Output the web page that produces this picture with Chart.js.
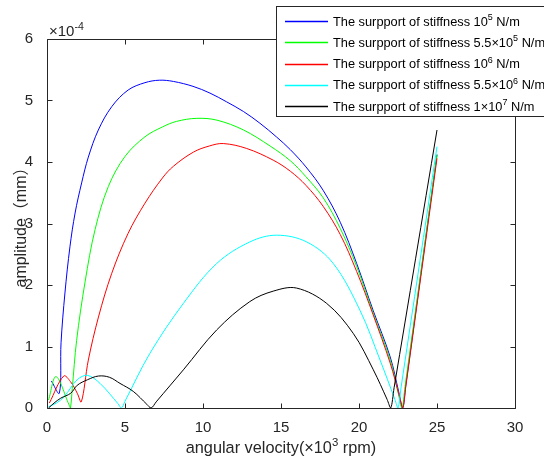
<!DOCTYPE html>
<html><head><meta charset="utf-8">
<script src="https://cdn.jsdelivr.net/npm/chart.js@4.4.1/dist/chart.umd.min.js"></script>
<style>html,body{margin:0;padding:0;background:#fff;overflow:hidden}</style>
</head><body>
<canvas id="c" width="544" height="460"></canvas>
<script>
const FONT = '"Liberation Sans", Arial, "Noto Sans CJK SC", sans-serif';
const xTicks = [0, 5, 10, 15, 20, 25, 30];
const yTicks = [0, 1, 2, 3, 4, 5, 6];

const blueX = [0.28,0.79,0.9,1.15,1.47,1.8,2.22,2.65,3.29,4.15,5.2,6.28,7.2,8.1,9.36,10.45,11.5,12.6,13.65,14.7,15.6,16.6,17.7,18.8,19.85,20.9,22.0,22.55,22.8,23.0,25];
const blueY = [0.44,0.24,1.06,1.87,2.62,3.17,3.66,4.08,4.52,4.9,5.17,5.29,5.33,5.31,5.23,5.12,4.98,4.82,4.63,4.41,4.2,3.92,3.54,3.02,2.35,1.59,0.83,0.26,0,0.37,4.12];

const greenX = [0.1,0.58,1.4,1.5,1.62,1.9,2.44,3.08,3.93,5.0,6.28,7.4,8.3,9.6,10.9,12.6,14.3,15.6,16.6,17.7,18.8,19.85,20.9,22.0,22.5,22.75,22.95,25];
const greenY = [0.13,0.51,0.06,0,0.32,1.1,2.05,2.9,3.6,4.09,4.41,4.57,4.66,4.71,4.68,4.52,4.26,4.02,3.76,3.42,2.92,2.3,1.55,0.78,0.26,0,0.35,4.12];

const redX = [0.15,1.07,1.5,1.94,2.2,2.65,3.3,4.15,5.2,6.28,7.4,8.1,9.38,10.4,11.3,12.8,14.5,15.6,16.6,17.7,18.8,19.85,20.9,22.0,22.6,22.8,23.0,25];
const redY = [0.08,0.52,0.43,0.24,0.1,0.78,1.48,2.19,2.84,3.33,3.74,3.93,4.16,4.26,4.3,4.22,4.03,3.85,3.62,3.28,2.82,2.22,1.52,0.73,0.18,0,0.35,4.06];

const cyanX = [0.1,0.6,1.09,1.94,2.6,3.4,4.55,4.77,5.0,6.6,8.74,10.88,13.0,14.72,16.65,18.35,20.06,21.35,22.3,22.5,22.7,25];
const cyanY = [0.02,0.08,0.18,0.46,0.53,0.4,0.07,0,0.11,0.89,1.7,2.35,2.7,2.81,2.7,2.35,1.59,0.78,0.14,0,0.34,4.25];

const blackX = [0.1,0.45,0.88,1.52,1.94,2.6,3.3,4.0,4.68,5.53,6.4,6.67,7.0,8.74,10.88,13.0,14.5,16.0,17.93,19.64,20.92,21.8,22.03,22.25,25];
const blackY = [0,0.08,0.16,0.24,0.37,0.46,0.52,0.5,0.4,0.27,0.06,0,0.1,0.62,1.27,1.73,1.9,1.95,1.7,1.21,0.62,0.14,0,0.33,4.52];

const legendBase = ['10', '5.5×10', '10', '5.5×10', '1×10'];
const legendExp = ['5', '5', '6', '6', '7'];
const legendPrefix = 'The surpport of stiffness ';
const legendSuffix = ' N/m';
const colors = ['#0000ff', '#00ff00', '#ff0000', '#00ffff', '#000000'];

const seriesX = [blueX, greenX, redX, cyanX, blackX];
const seriesY = [blueY, greenY, redY, cyanY, blackY];

const datasets = seriesX.map((xs, i) => ({
  label: legendPrefix + legendBase[i] + '^' + legendExp[i] + legendSuffix,
  data: xs.map((x, j) => ({x: x, y: seriesY[i][j]})),
  borderColor: colors[i],
  backgroundColor: colors[i],
  borderWidth: 1,
  pointRadius: 0,
  fill: false,
  tension: 0.35,
  order: 4 - i
}));

function drawRich(ctx, parts, x, y, size, align) {
  const supSize = size * 0.7;
  let total = 0;
  parts.forEach(p => { ctx.font = (p.sup ? supSize : size) + 'px ' + FONT; total += ctx.measureText(p.t).width; });
  let cx = align === 'center' ? x - total / 2 : x;
  ctx.textAlign = 'left';
  ctx.textBaseline = 'alphabetic';
  parts.forEach(p => {
    ctx.font = (p.sup ? supSize : size) + 'px ' + FONT;
    ctx.fillText(p.t, cx, p.sup ? y - size * 0.42 : y);
    cx += ctx.measureText(p.t).width;
  });
}

const matlabPlugin = {
  id: 'matlabAxes',
  afterDraw(chart) {
    const ctx = chart.ctx, a = chart.chartArea, xs = chart.scales.x, ys = chart.scales.y;
    ctx.save();
    ctx.strokeStyle = '#262626';
    ctx.lineWidth = 1;
    const L = Math.round(a.left) + 0.5, R = Math.round(a.right) + 0.5, T = Math.round(a.top) + 0.5, B = Math.round(a.bottom) + 0.5;
    ctx.beginPath();
    ctx.moveTo(L, T); ctx.lineTo(R, T); ctx.lineTo(R, B); ctx.lineTo(L, B); ctx.closePath();
    xTicks.forEach(v => {
      const px = Math.round(xs.getPixelForValue(v)) + 0.5;
      ctx.moveTo(px, B); ctx.lineTo(px, B - 5);
      ctx.moveTo(px, T); ctx.lineTo(px, T + 5);
    });
    yTicks.forEach(v => {
      const py = Math.round(ys.getPixelForValue(v)) + 0.5;
      ctx.moveTo(L, py); ctx.lineTo(L + 5, py);
      ctx.moveTo(R, py); ctx.lineTo(R - 5, py);
    });
    ctx.stroke();

    ctx.fillStyle = '#262626';
    drawRich(ctx, [{t: '×10'}, {t: '-4', sup: true}], a.left + 2, a.top - 3, 15, 'left');
    drawRich(ctx, [{t: 'angular velocity(×10'}, {t: '3', sup: true}, {t: ' rpm)'}], (a.left + a.right) / 2, 453, 16.3, 'center');

    const lx = 276.5, ly = 6.5, lw = 300, lh = 110;
    ctx.fillStyle = '#ffffff';
    ctx.fillRect(lx, ly, lw, lh);
    ctx.strokeStyle = '#262626';
    ctx.lineWidth = 1;
    ctx.strokeRect(lx, ly, lw, lh);
    for (let i = 0; i < 5; i++) {
      const ry = 21 + i * 21.3;
      ctx.strokeStyle = colors[i];
      ctx.lineWidth = 1.5;
      ctx.beginPath();
      ctx.moveTo(285, Math.round(ry) + 0.5);
      ctx.lineTo(328, Math.round(ry) + 0.5);
      ctx.stroke();
      ctx.fillStyle = '#000000';
      drawRich(ctx, [{t: legendPrefix + legendBase[i]}, {t: legendExp[i], sup: true}, {t: legendSuffix}], 333, ry + 4.5, 12.8, 'left');
    }
    ctx.restore();
  }
};

new Chart(document.getElementById('c'), {
  type: 'line',
  data: {datasets: datasets},
  options: {
    responsive: false,
    animation: false,
    devicePixelRatio: 1,
    layout: {padding: {top: 39, right: 29, left: 0, bottom: 0}},
    plugins: {legend: {display: false}, tooltip: {enabled: false}},
    scales: {
      x: {
        type: 'linear', min: 0, max: 30,
        grid: {display: false},
        border: {display: false},
        ticks: {stepSize: 5, color: '#262626', font: {family: FONT, size: 15}, padding: 3, maxRotation: 0},
        afterBuildTicks: s => { s.ticks = xTicks.map(v => ({value: v})); },
        afterFit: s => { s.height = 52; }
      },
      y: {
        type: 'linear', min: 0, max: 6,
        grid: {display: false},
        border: {display: false},
        ticks: {stepSize: 1, color: '#262626', font: {family: FONT, size: 15}, padding: 6},
        afterBuildTicks: s => { s.ticks = yTicks.map(v => ({value: v})); },
        title: {display: true, text: 'amplitude（mm）', color: '#262626', font: {family: FONT, size: 16}, padding: {top: 12, bottom: 0}},
        afterFit: s => { s.width = 47; }
      }
    }
  },
  plugins: [matlabPlugin]
});
</script>
</body></html>
